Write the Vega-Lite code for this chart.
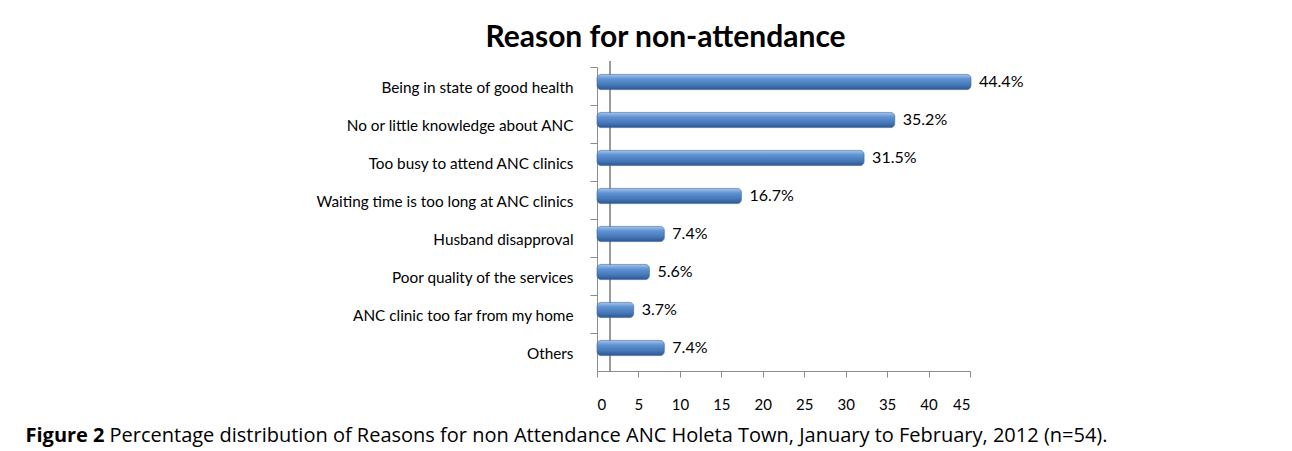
{
  "$schema": "https://vega.github.io/schema/vega-lite/v6.json",
  "autosize": {"type": "none"},
  "width": 373,
  "height": 304,
  "padding": {"left": 597, "top": 67, "right": 322, "bottom": 80},
  "background": "white",
  "config": {"view": {"stroke": null}, "font": "Lato"},
  "title": {
    "text": "Reason for non-attendance",
    "font": "Lato",
    "fontSize": 30,
    "fontWeight": "bold",
    "color": "#000000",
    "anchor": "middle",
    "frame": "group",
    "dx": -118,
    "baseline": "alphabetic",
    "offset": -16
  },
  "data": {
    "values": [
      {"reason": "Being in state of good health", "pct": 44.4, "label": "44.4%"},
      {"reason": "No or little knowledge about ANC", "pct": 35.2, "label": "35.2%"},
      {"reason": "Too busy to attend ANC clinics", "pct": 31.5, "label": "31.5%"},
      {"reason": "Waiting time is too long at ANC clinics", "pct": 16.7, "label": "16.7%"},
      {"reason": "Husband disapproval", "pct": 7.4, "label": "7.4%"},
      {"reason": "Poor quality of the services", "pct": 5.6, "label": "5.6%"},
      {"reason": "ANC clinic too far from my home", "pct": 3.7, "label": "3.7%"},
      {"reason": "Others", "pct": 7.4, "label": "7.4%"}
    ]
  },
  "encoding": {
    "y": {
      "field": "reason",
      "type": "nominal",
      "sort": null,
      "scale": {"paddingInner": 0, "paddingOuter": 0},
      "axis": {
        "title": "Figure 2",
        "titleAngle": 0,
        "titleX": -572,
        "titleY": 374,
        "titleAlign": "left",
        "titleBaseline": "alphabetic",
        "titleFont": "Open Sans",
        "titleFontSize": 20,
        "titleFontWeight": "bold",
        "titleColor": "#000000",
        "bandPosition": 0,
        "labelFont": "Lato",
        "labelFontSize": 15.3,
        "labelColor": "#000000",
        "labelPadding": 17,
        "labelOffset": 2,
        "labelLimit": 400,
        "tickSize": 7,
        "tickColor": "#8c8c8c",
        "domainColor": "#8c8c8c",
        "grid": false
      }
    }
  },
  "layer": [
    {
      "mark": {"type": "rule", "color": "#9a9a9a", "xOffset": 13, "yOffset": -6, "strokeWidth": 1},
      "encoding": {"x": {"datum": 0, "type": "quantitative"}, "y": null}
    },
    {
      "mark": {
        "type": "bar",
        "height": {"band": 0.4},
        "xOffset": 6,
        "x2Offset": 6,
        "yOffset": -4,
        "cornerRadius": 4,
        "stroke": "#3a669f",
        "strokeWidth": 0.6,
        "color": {
          "gradient": "linear",
          "x1": 0, "y1": 0, "x2": 0, "y2": 1,
          "stops": [
            {"offset": 0, "color": "#a7c4ea"},
            {"offset": 0.3, "color": "#5f93d3"},
            {"offset": 0.7, "color": "#4676b6"},
            {"offset": 1, "color": "#2d5690"}
          ]
        }
      },
      "encoding": {
        "x": {
          "field": "pct",
          "type": "quantitative",
          "stack": null,
          "scale": {"domain": [0, 45], "nice": false},
          "axis": {
            "values": [0, 5, 10, 15, 20, 25, 30, 35, 40, 45],
            "title": "Percentage distribution of Reasons for non Attendance ANC Holeta Town, January to February, 2012 (n=54).",
            "titleX": -488,
            "titleY": 70,
            "titleAlign": "left",
            "titleAnchor": null,
            "titleBaseline": "alphabetic",
            "titleFont": "Open Sans",
            "titleFontSize": 20,
            "titleFontWeight": "normal",
            "titleColor": "#000000",
            "labelFont": "Lato",
            "labelFontSize": 15,
            "labelColor": "#000000",
            "labelPadding": 20,
            "tickSize": 6,
            "tickColor": "#8c8c8c",
            "domainColor": "#8c8c8c",
            "grid": false
          }
        }
      }
    },
    {
      "mark": {"type": "text", "align": "left", "baseline": "middle", "dx": 14, "yOffset": -4, "font": "Lato", "fontSize": 16, "color": "#000000"},
      "encoding": {
        "x": {"field": "pct", "type": "quantitative"},
        "text": {"field": "label"}
      }
    }
  ]
}
